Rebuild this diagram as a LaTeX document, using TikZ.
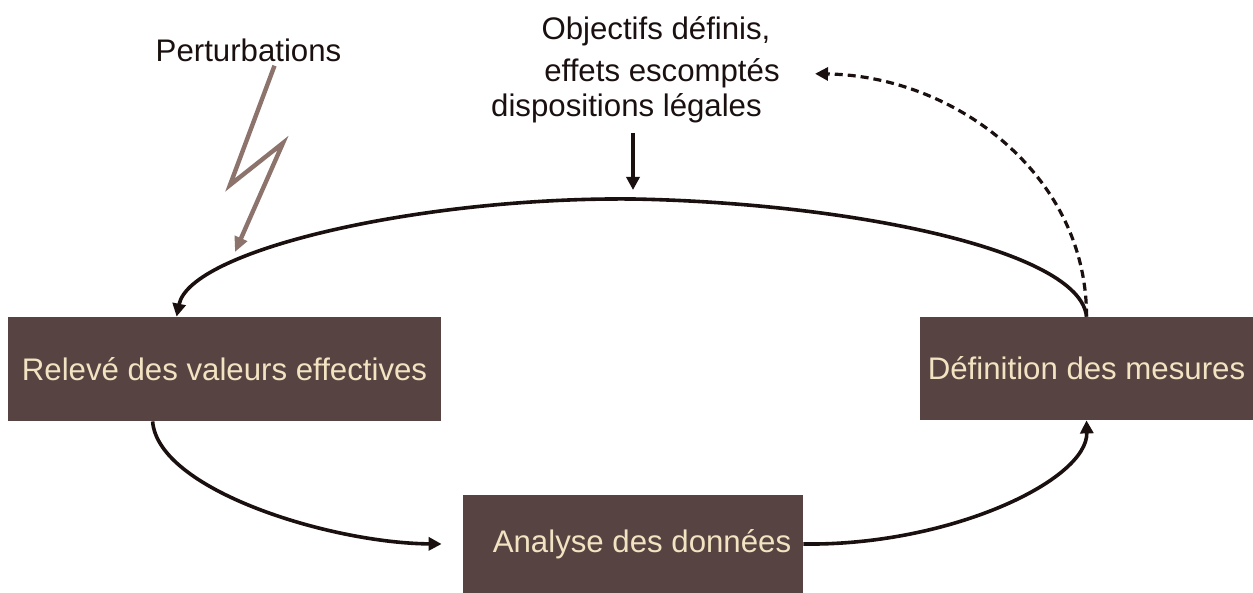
\documentclass[tikz,border=0pt]{standalone}
\usepackage{fontspec}
\setmainfont{Liberation Sans}
\usepackage{tikz}
\usetikzlibrary{arrows.meta}

\definecolor{boxbrown}{HTML}{574341}
\definecolor{boxtext}{HTML}{F2E3C2}
\definecolor{boltgray}{HTML}{8C736C}
\definecolor{inkdark}{HTML}{1A1010}

\tikzset{
    stagebox/.style={rectangle, fill=boxbrown, text=boxtext, inner sep=0pt,
        font=\fontsize{15.6}{18}\selectfont},
    caption/.style={inner sep=0pt, anchor=base, text=inkdark,
        font=\fontsize{15.6}{18}\selectfont},
    flow/.style={draw=inkdark, line width=1.8pt,
        -{Triangle[length=6.5pt, width=6.5pt]}},
    feedback/.style={flow, line width=1.6pt, dash pattern=on 4pt off 2.5pt},
    bolt/.style={draw=boltgray, line width=2.2pt, line join=miter,
        -{Triangle[length=7.5pt, width=6.5pt]}}
}

\begin{document}
\begin{tikzpicture}[x=0.5pt, y=-0.5pt]
        \useasboundingbox (0, 0) rectangle (1253, 593);
        % the three stages
        \node[stagebox, minimum width=216.5pt, minimum height=52pt] (releve) at (224.5, 369) {Relevé des valeurs effectives};
        \node[stagebox, minimum width=166.5pt, minimum height=51.5pt] (definition) at (1086.5, 368.5) {Définition des mesures};
        \node[stagebox, minimum width=170pt, minimum height=49pt] (analyse) at (633, 544) {\hspace*{9pt}Analyse des données};
        % texts above the loop
        \node[caption] (pert) at (248.5, 62) {Perturbations};
        \node[caption] (objectifs) at (656, 40) {Objectifs définis,};
        \node[caption] (effets) at (662, 82) {effets escomptés};
        \node[caption] (dispo) at (626.5, 117) {dispositions légales};
        \coordinate (loopTop) at (633, 190);
        \coordinate (boltA) at (230, 185);
        \coordinate (boltB) at (283, 143);
        \coordinate (boltEnd) at (235, 252);
        % the loop
        \draw[flow] ([xshift=72.5pt]releve.south west) .. controls (158, 490) and (330, 543) .. ([xshift=-10.5pt]analyse.west);
        \draw[flow] (analyse.east) .. controls (950, 546) and (1088, 480) .. (definition.south);
        \draw[flow] (definition.north) .. controls (1080, 250) and (850, 203) .. (633, 199)
            .. controls (420, 197) and (190, 250) .. ([xshift=84.5pt]releve.north west);
        \draw[feedback] (definition.north) .. controls (1087, 175) and (955, 76) .. ([xshift=17.5pt]effets.east);
        \draw[flow] ([yshift=-4.5pt]dispo.south -| loopTop) -- (loopTop);
        % disturbance
        \draw[bolt] ([xshift=13pt, yshift=-1.5pt]pert.south) -- (boltA) -- (boltB) -- (boltEnd);
    \end{tikzpicture}
\end{document}
